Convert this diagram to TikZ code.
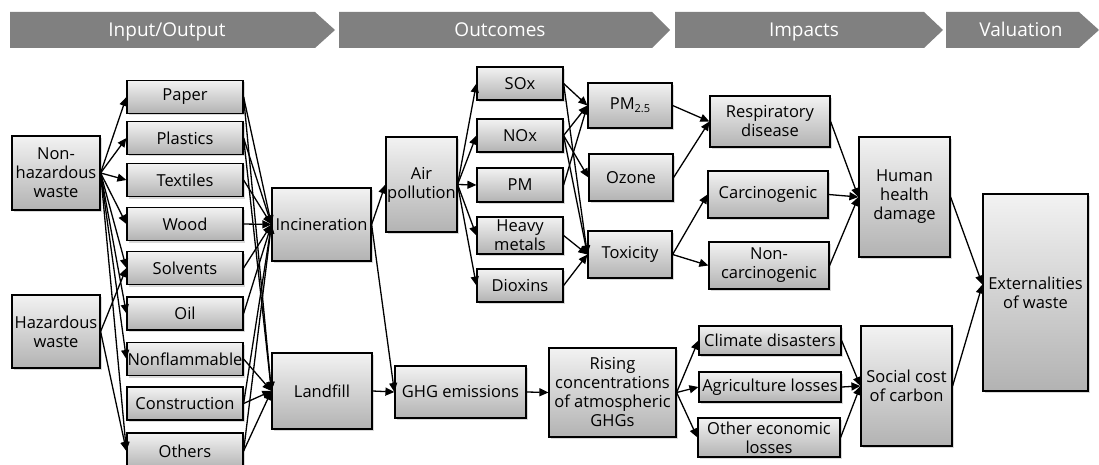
\documentclass[tikz,border=0pt]{standalone}
\usepackage{fontspec}
\setmainfont{Open Sans}
\usetikzlibrary{arrows.meta,shadows}

\newcommand\boxfont{\fontsize{16.5}{19}\selectfont}
\newcommand\bandfont{\fontsize{19}{22}\selectfont}
\newcommand\subtext[1]{\raisebox{-0.35ex}{\fontsize{11}{12}\selectfont #1}}

\tikzset{
  box/.style={draw=black, line width=1.2pt,
    top color=white!95!black, bottom color=white!70!black,
    align=center, inner sep=0pt, font=\boxfont,
    drop shadow={shadow xshift=2pt, shadow yshift=-2pt, opacity=0.3}},
  mat/.style={box, minimum width=116pt, minimum height=33pt},
  link/.style={line width=1.3pt, -{Triangle[length=9pt,width=8pt]}},
  band/.style={fill=white!50!black},
  bandtext/.style={text=white, font=\bandfont, inner sep=0pt, anchor=base}
}

\begin{document}
\begin{tikzpicture}[x=1pt,y=-1pt]
\useasboundingbox (0,0) rectangle (1099,465);
\clip (0,0) rectangle (1099,465);

% stage bands
\fill[band] (10,12) -- (315,12) -- (335,30) -- (315,48) -- (10,48) -- cycle;
\fill[band] (339,12) -- (652,12) -- (670,30) -- (652,48) -- (339,48) -- cycle;
\fill[band] (675,12) -- (924,12) -- (943,30) -- (924,48) -- (675,48) -- cycle;
\fill[band] (946,12) -- (1079,12) -- (1099,30) -- (1079,48) -- (946,48) -- cycle;
\node[bandtext] (hio)  at (167,37)  {Input/Output};
\node[bandtext] (hout) at (500,37)  {Outcomes};
\node[bandtext] (himp) at (804,37)  {Impacts};
\node[bandtext] (hval) at (1021,37) {Valuation};

% waste sources
\node[box, minimum width=88pt, minimum height=74pt] (nh) at (56,173) {Non-\\hazardous\\waste};
\node[box, minimum width=88pt, minimum height=73pt] (hz) at (56,331.5) {Hazardous\\waste};

% materials
\node[mat] (paper)  at (185,97)    {Paper};
\node[mat] (plast)  at (185,138)   {Plastics};
\node[mat] (text)   at (185,180)   {Textiles};
\node[mat] (wood)   at (185,224)   {Wood};
\node[mat] (solv)   at (185,268)   {Solvents};
\node[mat] (oil)    at (185,313.5) {Oil};
\node[mat] (nonfl)  at (185,359)   {Nonflammable};
\node[mat] (constr) at (185,403.5) {Construction};
\node[mat, minimum height=36pt] (others) at (185,451) {Others};

% treatment
\node[box, minimum width=99pt, minimum height=73pt] (inc) at (321.5,224.5) {Incineration};
\node[box, minimum width=100pt, minimum height=76pt] (land) at (322,391) {Landfill};

% outcomes
\node[box, minimum width=71pt, minimum height=95pt] (air) at (421.5,184.5) {Air\\pollution};
\node[box, minimum width=86pt, minimum height=33pt] (sox) at (520,83.5) {SOx};
\node[box, minimum width=86pt, minimum height=33pt] (nox) at (520,135.5) {NOx};
\node[box, minimum width=86pt, minimum height=34pt] (pm)  at (520,185) {PM};
\node[box, minimum width=86pt, minimum height=37pt] (heavy) at (520,235.5) {Heavy\\metals};
\node[box, minimum width=86pt, minimum height=33pt] (diox) at (520,285.5) {Dioxins};
\node[box, minimum width=131pt, minimum height=52pt] (ghg) at (460.5,392) {GHG emissions};

\node[box, minimum width=84pt, minimum height=45pt] (pmfine) at (630,105.5) {PM\subtext{2.5}};
\node[box, minimum width=84pt, minimum height=47pt] (ozone) at (631,177.5) {Ozone};
\node[box, minimum width=84pt, minimum height=47pt] (tox) at (630,254.5) {Toxicity};
\node[box, minimum width=127pt, minimum height=89pt] (rise) at (612.5,392.5) {Rising\\concentrations\\of atmospheric\\GHGs};

% impacts
\node[box, minimum width=120pt, minimum height=51pt] (resp) at (770,121.5) {Respiratory\\disease};
\node[box, minimum width=120pt, minimum height=47pt] (carc) at (768,194.5) {Carcinogenic};
\node[box, minimum width=120pt, minimum height=47pt] (ncarc) at (769,265.5) {Non-\\carcinogenic};
\node[box, minimum width=142pt, minimum height=29pt] (clim) at (770,340.5) {Climate disasters};
\node[box, minimum width=142pt, minimum height=30pt] (agri) at (770,387) {Agriculture losses};
\node[box, minimum width=142pt, minimum height=39pt] (econ) at (769,437.5) {Other economic\\losses};
\node[box, minimum width=91pt, minimum height=120pt] (hhd) at (904.5,197) {Human\\health\\damage};
\node[box, minimum width=91pt, minimum height=120pt] (scc) at (906.5,386) {Social cost\\of carbon};

% valuation
\node[box, minimum width=105pt, minimum height=197pt] (ext) at (1035.5,292.5) {Externalities\\of waste};

% sources to materials
\foreach \m in {paper,plast,text,wood,solv,oil,nonfl,others}
  \draw[link] (nh.east) -- (\m.west);
\foreach \m in {solv,others}
  \draw[link] (hz.east) -- (\m.west);

% materials to treatment
\foreach \m in {paper,plast,text,wood,solv,oil,constr,others}
  \draw[link] (\m.east) -- (inc.west);
\foreach \m in {paper,plast,nonfl,constr,others}
  \draw[link] (\m.east) -- (land.west);

% treatment to outcomes
\draw[link] (inc.east) -- (air.west);
\draw[link] (inc.east) -- (ghg.west);
\draw[link] (land.east) -- (ghg.west);
\foreach \p in {sox,nox,pm,heavy,diox}
  \draw[link] (air.east) -- (\p.west);

% pollutants to effects
\draw[link] (sox.east) -- (pmfine.west);
\draw[link] (sox.east) -- (tox.west);
\draw[link] (nox.east) -- (pmfine.west);
\draw[link] (nox.east) -- (ozone.west);
\draw[link] (nox.east) -- (tox.west);
\draw[link] (pm.east) -- (pmfine.west);
\draw[link] (heavy.east) -- (tox.west);
\draw[link] (diox.east) -- (tox.west);

\draw[link] (pmfine.east) -- (resp.west);
\draw[link] (ozone.east) -- (resp.west);
\draw[link] (tox.east) -- (carc.west);
\draw[link] (tox.east) -- (ncarc.west);

\draw[link] (ghg.east) -- (rise.west);
\foreach \c in {clim,agri,econ}
  \draw[link] (rise.east) -- (\c.west);

% impacts to valuation
\foreach \h in {resp,carc,ncarc}
  \draw[link] (\h.east) -- (hhd.west);
\foreach \c in {clim,agri,econ}
  \draw[link] (\c.east) -- (scc.west);
\draw[link] (hhd.east) -- ([yshift=8pt]ext.west);
\draw[link] (scc.east) -- ([yshift=8pt]ext.west);
\end{tikzpicture}
\end{document}
